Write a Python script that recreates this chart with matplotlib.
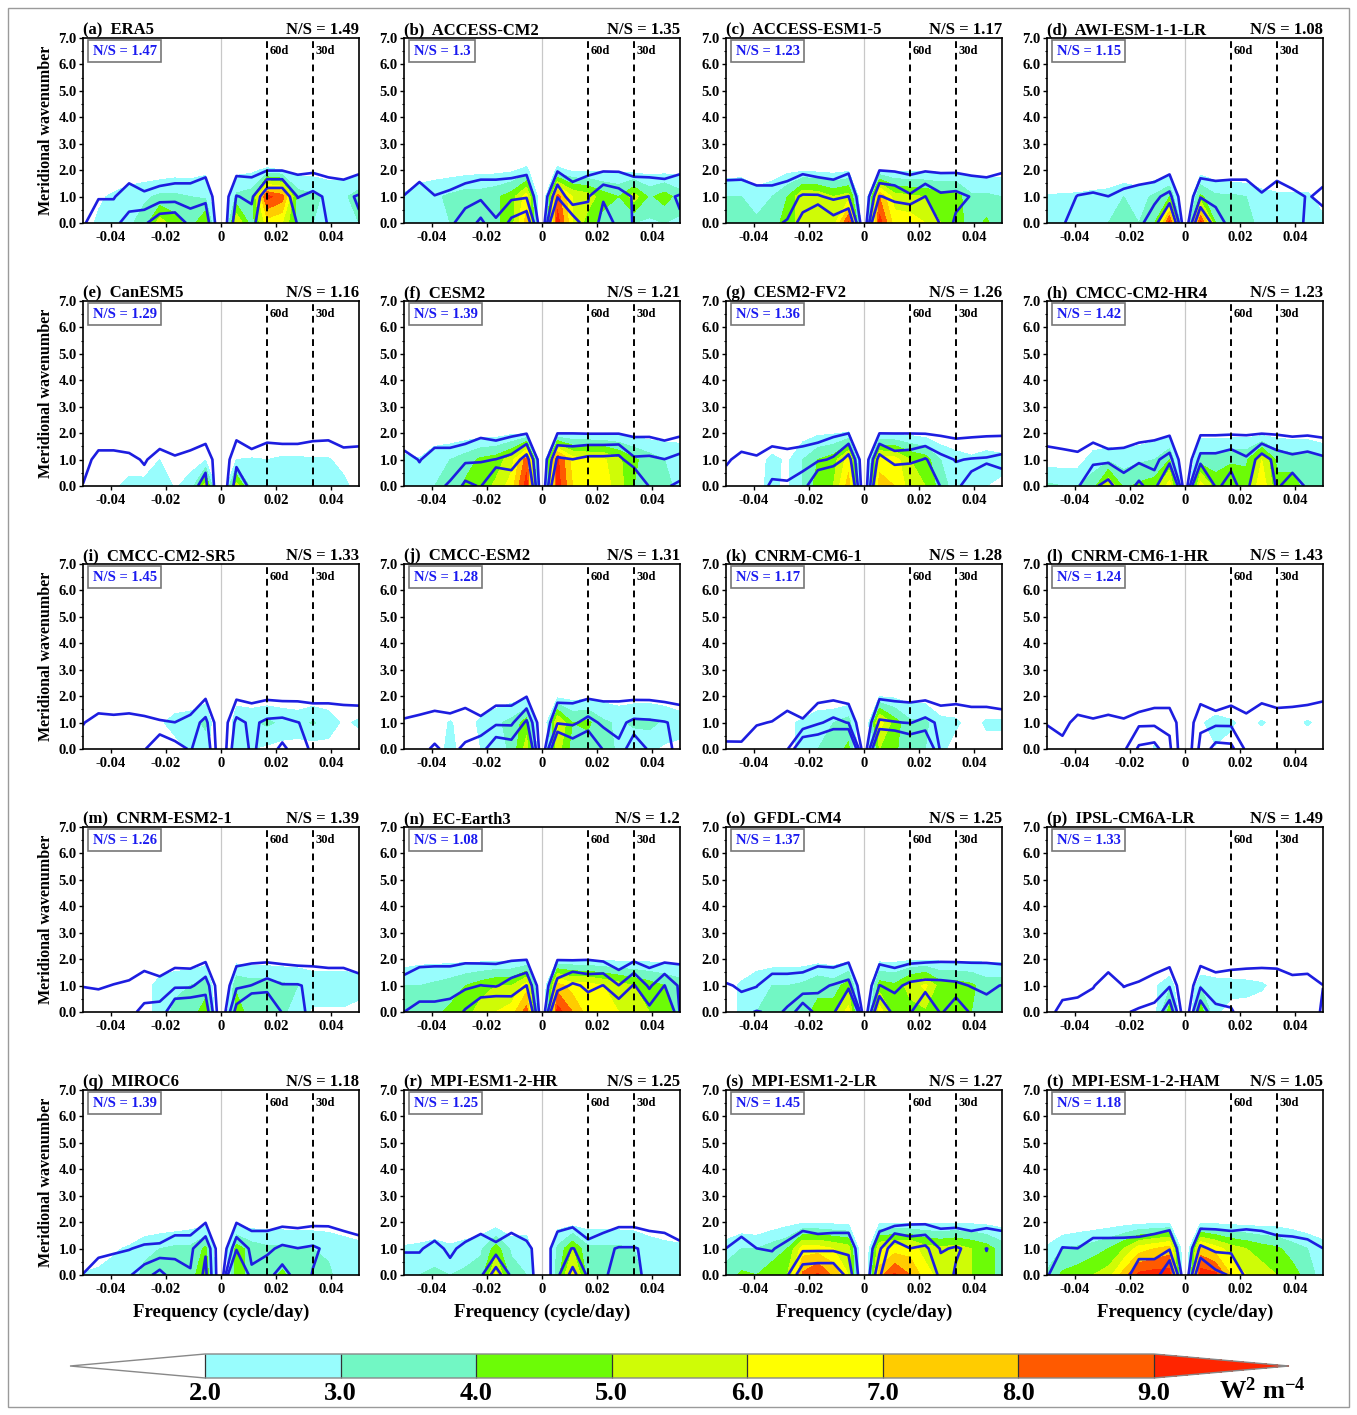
import numpy as np
import matplotlib
matplotlib.use("Agg")
import matplotlib.pyplot as plt
from matplotlib.colors import ListedColormap, BoundaryNorm
from matplotlib.cm import ScalarMappable
from matplotlib.patches import Rectangle
from matplotlib.ticker import MultipleLocator

plt.rcParams['font.family'] = ['Liberation Serif', 'DejaVu Serif']
plt.rcParams['font.weight'] = 'bold'
plt.rcParams['axes.labelweight'] = 'bold'
plt.rcParams['axes.titleweight'] = 'bold'
plt.rcParams['axes.unicode_minus'] = False
plt.rcParams['mathtext.fontset'] = 'custom'
plt.rcParams['mathtext.rm'] = 'Liberation Serif:bold'
plt.rcParams['mathtext.bf'] = 'Liberation Serif:bold'
plt.rcParams['mathtext.it'] = 'Liberation Serif:bold:italic'

# ---------------- data ----------------
freq = [-0.05, -0.0444, -0.0389, -0.0333, -0.0278, -0.0222, -0.0167, -0.0111, -0.0056, 0.0,
        0.0056, 0.0111, 0.0167, 0.0222, 0.0278, 0.0333, 0.0389, 0.0444, 0.05]
wavenumber = [0.0, 1.0, 2.0, 3.0]
fill_levels = [2.0, 3.0, 4.0, 5.0, 6.0, 7.0, 8.0, 9.0]
line_levels = [1.0, 2.0, 3.0]

panel_letters = ['(a)', '(b)', '(c)', '(d)', '(e)', '(f)', '(g)', '(h)', '(i)', '(j)',
                 '(k)', '(l)', '(m)', '(n)', '(o)', '(p)', '(q)', '(r)', '(s)', '(t)']
models = ['ERA5', 'ACCESS-CM2', 'ACCESS-ESM1-5', 'AWI-ESM-1-1-LR', 'CanESM5', 'CESM2',
          'CESM2-FV2', 'CMCC-CM2-HR4', 'CMCC-CM2-SR5', 'CMCC-ESM2', 'CNRM-CM6-1',
          'CNRM-CM6-1-HR', 'CNRM-ESM2-1', 'EC-Earth3', 'GFDL-CM4', 'IPSL-CM6A-LR',
          'MIROC6', 'MPI-ESM1-2-HR', 'MPI-ESM1-2-LR', 'MPI-ESM-1-2-HAM']
ns_title = ['1.49', '1.35', '1.17', '1.08', '1.16', '1.21', '1.26', '1.23', '1.33', '1.31',
            '1.28', '1.43', '1.39', '1.2', '1.25', '1.49', '1.18', '1.25', '1.27', '1.05']
ns_box = ['1.47', '1.3', '1.23', '1.15', '1.29', '1.39', '1.36', '1.42', '1.45', '1.28',
          '1.17', '1.24', '1.26', '1.08', '1.37', '1.33', '1.39', '1.25', '1.45', '1.18']

# filled field (W^2 m^-4), rows: wavenumber 0, 1, 2
FILL_A = [[1.5, 2.2, 2.5, 2.8, 3.5, 5.5, 4.5, 3.5, 5.0, 0, 6.0, 3.5, 6.5, 6.0, 3.5, 3.0, 3.0, 2.8, 3.0],
          [1.0, 1.8, 2.2, 2.6, 2.8, 3.2, 3.2, 3.0, 2.8, 0, 3.2, 3.5, 9.3, 8.5, 3.5, 3.2, 2.8, 2.8, 3.5],
          [0.5, 0.8, 1.0, 1.2, 1.3, 1.3, 1.5, 1.5, 1.8, 0, 1.7, 1.8, 2.2, 2.0, 1.6, 1.6, 1.5, 1.5, 1.6]]
FILL_B = [[2.5, 2.8, 3.0, 3.0, 3.5, 3.5, 3.8, 4.5, 7.5, 0, 9.5, 6.0, 4.5, 3.5, 3.0, 3.0, 2.8, 3.0, 2.8],
          [2.2, 2.8, 2.8, 3.2, 3.5, 3.5, 3.8, 4.5, 6.5, 0, 8.5, 6.0, 5.5, 4.5, 4.0, 5.5, 3.8, 4.5, 3.5],
          [0.8, 1.2, 1.5, 1.5, 1.6, 1.7, 1.7, 1.8, 2.3, 0, 2.3, 1.8, 1.8, 1.8, 1.8, 1.6, 1.6, 1.6, 1.6]]
FILL_C = [[3.2, 4.0, 3.2, 3.5, 4.5, 5.5, 6.0, 5.5, 9.2, 0, 9.5, 6.5, 6.5, 6.0, 5.0, 4.5, 3.5, 4.2, 3.0],
          [3.0, 3.0, 2.5, 3.0, 4.0, 6.0, 5.8, 5.0, 5.5, 0, 8.0, 5.5, 5.2, 5.0, 4.5, 4.5, 3.2, 3.2, 3.0],
          [1.5, 1.6, 1.2, 1.3, 1.7, 1.8, 1.7, 1.6, 1.8, 0, 2.0, 1.8, 1.8, 1.8, 1.8, 1.8, 1.6, 1.5, 1.6]]
FILL_D = [[2.3, 2.5, 2.5, 2.8, 3.0, 3.2, 3.0, 4.0, 9.5, 0, 9.5, 4.0, 3.2, 3.2, 2.8, 2.6, 2.5, 2.2, 2.2],
          [2.1, 2.2, 2.2, 2.3, 2.5, 3.0, 2.6, 3.2, 4.0, 0, 4.2, 3.2, 3.2, 3.0, 2.4, 2.2, 2.2, 2.2, 1.6],
          [0.5, 0.5, 0.8, 1.0, 0.8, 1.0, 1.0, 1.2, 1.5, 0, 1.5, 1.2, 1.0, 1.0, 1.0, 1.0, 1.0, 1.0, 0.5]]
FILL_E = [[1.5, 1.8, 1.8, 2.3, 2.2, 2.6, 1.9, 2.3, 5.5, 0, 5.5, 2.5, 2.5, 2.5, 2.6, 2.6, 2.2, 2.3, 1.5],
          [1.0, 1.2, 1.2, 1.5, 1.6, 2.0, 1.6, 1.7, 1.9, 0, 2.0, 2.1, 2.0, 2.2, 2.2, 2.1, 2.1, 1.6, 1.2],
          [0.5, 0.5, 0.5, 0.5, 0.5, 0.5, 0.5, 0.5, 0.5, 0, 0.5, 0.5, 0.5, 0.5, 0.5, 0.5, 0.5, 0.5, 0.5]]
FILL_F = [[2.5, 2.5, 3.0, 3.2, 4.2, 4.5, 5.2, 6.5, 9.5, 0, 9.5, 7.0, 6.5, 6.5, 5.5, 4.0, 3.5, 3.2, 2.8],
          [2.3, 2.1, 2.8, 3.0, 3.5, 4.2, 4.5, 5.5, 8.5, 0, 9.2, 6.5, 6.2, 6.2, 5.2, 4.2, 3.5, 3.0, 2.8],
          [0.8, 0.5, 1.2, 1.3, 1.4, 1.5, 1.5, 1.8, 1.9, 0, 1.9, 1.9, 1.9, 1.8, 1.8, 1.6, 1.5, 1.5, 1.5]]
FILL_G = [[1.5, 1.8, 1.8, 2.2, 1.8, 3.0, 4.5, 5.0, 7.5, 0, 7.5, 7.0, 5.5, 5.0, 3.5, 2.5, 2.0, 2.0, 1.8],
          [1.2, 1.5, 1.5, 2.3, 1.8, 3.0, 4.0, 4.5, 6.5, 0, 6.5, 6.5, 5.0, 4.5, 3.0, 2.5, 2.2, 2.5, 2.3],
          [0.5, 0.5, 0.5, 0.8, 0.8, 1.5, 1.8, 1.9, 2.1, 0, 1.9, 1.8, 1.7, 1.5, 1.2, 1.0, 1.0, 1.0, 1.0]]
FILL_H = [[3.2, 3.0, 3.0, 3.5, 6.0, 3.8, 4.2, 4.5, 6.5, 0, 6.5, 4.5, 5.0, 4.5, 6.8, 4.2, 4.5, 3.5, 3.2],
          [1.5, 1.5, 1.5, 2.5, 2.8, 2.5, 2.8, 3.0, 4.0, 0, 3.5, 3.5, 3.8, 3.8, 6.0, 3.8, 3.5, 3.5, 3.2],
          [0.2, 0.2, 0.3, 1.0, 1.0, 1.3, 1.3, 1.5, 1.6, 0, 1.6, 1.6, 1.6, 1.6, 1.6, 1.6, 1.5, 1.5, 1.2]]
FILL_I = [[1.0, 1.0, 1.0, 1.0, 1.0, 1.2, 1.5, 2.2, 2.5, 0, 2.5, 2.0, 1.8, 1.6, 1.6, 1.5, 1.6, 1.5, 1.2],
          [1.0, 1.2, 1.2, 1.2, 1.3, 1.8, 2.5, 2.6, 3.2, 0, 2.8, 2.8, 3.2, 2.8, 2.6, 3.1, 2.6, 1.8, 2.2],
          [0.5, 0.5, 0.5, 0.5, 0.5, 0.8, 1.0, 1.2, 1.5, 0, 1.5, 1.3, 1.3, 1.3, 1.3, 1.3, 1.3, 1.0, 0.8]]
FILL_J = [[1.0, 1.2, 1.5, 2.3, 1.5, 2.0, 2.5, 3.2, 5.5, 0, 5.5, 3.5, 3.5, 3.5, 2.8, 2.2, 2.2, 1.8, 1.7],
          [1.0, 1.2, 1.4, 2.1, 1.5, 2.2, 2.8, 3.3, 4.5, 0, 6.2, 4.0, 4.2, 3.2, 2.8, 3.2, 3.3, 2.8, 2.5],
          [0.3, 0.4, 0.5, 0.5, 0.5, 1.2, 1.3, 1.5, 1.7, 0, 1.7, 1.6, 1.7, 1.6, 1.5, 1.5, 1.5, 1.5, 1.3]]
FILL_K = [[1.0, 1.0, 1.0, 1.0, 1.5, 2.5, 3.0, 3.5, 4.2, 0, 5.0, 4.2, 3.2, 3.0, 2.3, 1.5, 1.2, 1.5, 1.5],
          [1.0, 1.0, 1.0, 1.0, 1.8, 2.2, 2.8, 3.0, 3.5, 0, 6.5, 4.5, 3.2, 3.2, 2.3, 2.2, 1.5, 2.2, 2.2],
          [0.5, 0.5, 0.5, 0.5, 0.5, 0.8, 1.0, 1.0, 1.2, 0, 1.9, 1.8, 1.5, 1.5, 1.0, 1.0, 0.5, 0.5, 0.5]]
FILL_L = [[1.0, 1.0, 1.0, 1.0, 1.0, 1.0, 1.0, 2.1, 1.8, 0, 1.8, 1.9, 1.5, 1.0, 1.0, 1.0, 1.0, 1.0, 1.0],
          [1.0, 1.0, 1.0, 1.0, 1.0, 1.0, 1.0, 1.5, 1.6, 0, 1.8, 2.6, 2.2, 1.5, 2.15, 1.5, 1.5, 2.15, 1.5],
          [0.5, 0.5, 0.5, 0.5, 0.5, 0.5, 0.5, 0.5, 0.5, 0, 0.5, 0.5, 0.5, 0.5, 0.5, 0.5, 0.5, 0.5, 0.5]]
FILL_M = [[1.0, 1.0, 1.0, 1.0, 1.5, 2.5, 3.2, 3.5, 4.5, 0, 4.5, 3.5, 3.5, 3.2, 2.5, 1.8, 1.8, 1.8, 1.5],
          [1.0, 1.0, 1.0, 1.0, 1.5, 2.5, 2.8, 3.0, 3.5, 0, 3.8, 3.5, 3.5, 3.2, 3.0, 2.8, 2.8, 2.8, 2.6],
          [0.5, 0.5, 0.5, 0.5, 0.5, 1.0, 1.3, 1.3, 1.5, 0, 1.6, 1.5, 1.5, 1.5, 1.5, 1.3, 1.3, 1.3, 1.3]]
FILL_N = [[3.2, 3.5, 3.8, 4.2, 4.5, 5.5, 6.0, 6.5, 8.5, 0, 9.5, 8.0, 6.5, 6.5, 6.0, 5.5, 5.0, 4.5, 3.5],
          [3.0, 3.0, 3.2, 3.5, 4.0, 4.5, 5.0, 5.0, 6.5, 0, 7.5, 6.5, 6.5, 6.0, 5.5, 5.0, 4.5, 4.0, 3.5],
          [1.5, 1.7, 1.7, 1.7, 1.7, 1.7, 1.7, 1.8, 1.9, 0, 2.0, 2.0, 1.9, 1.8, 1.7, 1.7, 1.7, 1.7, 1.7]]
FILL_O = [[1.5, 2.2, 3.0, 3.2, 3.5, 3.8, 4.2, 4.5, 6.5, 0, 6.5, 4.5, 4.5, 4.8, 4.2, 4.0, 4.0, 3.8, 3.5],
          [1.5, 2.2, 2.8, 3.0, 3.0, 3.2, 3.8, 3.5, 4.5, 0, 4.5, 4.2, 5.5, 6.2, 4.5, 4.5, 4.2, 3.5, 3.5],
          [0.5, 1.0, 1.3, 1.5, 1.5, 1.5, 1.6, 1.5, 1.7, 0, 1.7, 1.7, 1.8, 1.8, 1.8, 1.8, 1.8, 1.8, 1.8]]
FILL_P = [[1.0, 1.0, 1.0, 1.0, 1.0, 1.0, 1.0, 1.5, 4.5, 0, 4.5, 2.2, 1.5, 1.5, 1.2, 1.0, 1.0, 1.0, 1.0],
          [1.0, 1.0, 1.0, 1.0, 1.0, 1.0, 1.0, 1.8, 2.8, 0, 3.0, 2.6, 2.5, 2.4, 2.2, 1.5, 1.0, 1.0, 1.0],
          [0.5, 0.5, 0.5, 0.5, 0.5, 0.5, 0.5, 0.5, 0.5, 0, 0.5, 0.5, 0.5, 0.5, 0.5, 0.5, 0.5, 0.5, 0.5]]
FILL_Q = [[2.1, 2.2, 2.5, 2.6, 3.2, 3.2, 3.5, 3.5, 5.0, 0, 4.5, 3.5, 3.5, 4.2, 3.5, 3.2, 3.2, 2.5, 2.2],
          [1.0, 1.5, 1.8, 2.2, 2.8, 3.0, 3.2, 3.2, 4.2, 0, 4.5, 3.5, 3.2, 3.2, 3.0, 3.0, 2.8, 2.5, 2.3],
          [0.5, 0.5, 0.5, 0.5, 1.0, 1.2, 1.3, 1.5, 1.6, 0, 1.6, 1.5, 1.5, 1.5, 1.5, 1.5, 1.5, 1.4, 1.3]]
FILL_R = [[2.5, 3.0, 3.2, 3.0, 3.2, 3.5, 6.2, 3.5, 3.0, 0, 3.5, 6.5, 3.5, 3.2, 3.5, 3.2, 2.8, 2.5, 2.5],
          [2.2, 2.3, 2.5, 2.3, 2.5, 2.8, 4.5, 2.8, 2.8, 0, 3.2, 5.0, 3.2, 3.2, 3.2, 3.0, 2.5, 2.3, 2.2],
          [0.5, 0.8, 1.0, 0.5, 1.0, 1.2, 1.3, 1.0, 1.2, 0, 1.5, 1.5, 1.5, 1.5, 1.5, 1.5, 1.4, 1.3, 1.2]]
FILL_S = [[3.5, 4.2, 4.0, 4.5, 5.0, 8.2, 9.2, 7.8, 6.0, 0, 7.5, 9.2, 8.0, 6.5, 5.5, 5.5, 5.0, 4.5, 3.5],
          [2.5, 3.0, 3.0, 3.5, 4.0, 6.5, 6.5, 6.0, 5.5, 0, 6.0, 6.5, 6.5, 5.5, 5.2, 5.5, 5.0, 4.5, 3.5],
          [1.0, 1.2, 1.0, 1.3, 1.6, 1.8, 1.8, 1.7, 1.7, 0, 1.8, 1.8, 1.8, 1.8, 1.8, 1.8, 1.8, 1.7, 1.6]]
FILL_T = [[3.2, 4.2, 4.5, 5.0, 5.5, 7.5, 9.3, 9.5, 9.5, 0, 9.5, 9.3, 7.0, 6.0, 5.5, 5.0, 4.5, 3.5, 2.5],
          [2.2, 3.0, 3.2, 3.5, 4.0, 5.0, 6.5, 7.0, 7.5, 0, 7.5, 6.5, 5.5, 5.0, 4.5, 4.2, 3.5, 3.0, 2.5],
          [0.5, 1.0, 1.2, 1.3, 1.4, 1.5, 1.6, 1.7, 1.8, 0, 1.8, 1.7, 1.6, 1.6, 1.5, 1.5, 1.4, 1.2, 1.0]]

# contoured (blue line) field, rows: wavenumber 0, 1, 2
LINE_A = [[0.8, 1.9, 1.9, 2.15, 2.8, 3.8, 4.0, 2.6, 2.6, 0, 2.6, 2.5, 4.5, 4.5, 2.9, 2.9, 1.9, 1.9, 1.9],
          [0.3, 0.9, 0.9, 1.8, 1.2, 1.5, 1.5, 1.5, 1.8, 0, 2.05, 1.8, 4.0, 4.0, 1.95, 2.3, 1.8, 1.8, 2.1],
          [0, 0, 0, 0.2, 0.2, 0.25, 0.5, 0.5, 0.7, 0, 0.7, 0.7, 0.95, 0.95, 0.8, 0.85, 0.7, 0.55, 0.8]]
LINE_B = [[1.5, 1.9, 1.9, 1.9, 2.25, 3.3, 2.05, 3.3, 3.9, 0, 6.0, 3.77, 2.2, 3.4, 2.8, 1.9, 1.5, 1.5, 1.9],
          [1.05, 1.8, 1.05, 1.5, 1.8, 1.8, 1.8, 1.8, 1.9, 0, 2.9, 1.2, 1.95, 2.9, 2.5, 1.9, 1.8, 1.8, 2.1],
          [0, 0.35, 0, -0.5, 0.2, 0.55, 0.55, 0.65, 0.8, 0, 0.9, 0.84, 0.75, 0.9, 0.9, 0.7, 0.7, 0.6, 0.8]]
LINE_C = [[1.9, 1.9, 1.9, 1.9, 2.05, 3.6, 5.1, 3.5, 4.2, 0, 6.0, 3.8, 5.0, 5.0, 2.8, 1.8, 1.5, 1.5, 1.5],
          [1.8, 1.8, 1.8, 1.8, 1.7, 2.1, 2.1, 1.8, 2.02, 0, 3.05, 2.8, 2.15, 3.02, 2.2, 2.3, 1.95, 1.8, 1.8],
          [0.5, 0.55, -0.1, -0.1, 0.5, 0.8, 0.6, 0.55, 0.85, 0, 0.98, 0.9, 0.75, 0.9, 0.85, 0.85, 0.75, 0.7, 0.9]]
LINE_D = [[0.8, 0.9, 1.5, 1.5, 1.5, 1.6, 1.8, 2.47, 5.1, 0, 4.65, 2.3, 1.8, 1.8, 1.5, 1.5, 1.5, 0.8, 0.5],
          [0.5, 0.5, 1.05, 1.2, 1.01, 1.5, 1.8, 1.8, 2.3, 0, 1.9, 1.8, 1.8, 1.8, 1.2, 1.8, 1.5, 0.9, 1.3],
          [0, 0, 0, -0.1, 0, -0.2, 0, 0.35, 0.75, 0, 0.6, 0.45, 0.55, 0.55, -0.1, 0.45, -0.2, 0, 0.5]]
LINE_E = [[1.1, 1.8, 1.8, 1.8, 1.8, 1.8, 1.8, 1.8, 2.2, 0, 2.5, 1.8, 1.8, 1.8, 1.8, 1.8, 1.8, 1.8, 1.8],
          [0, 1.8, 1.8, 1.5, 0.8, 1.8, 1.2, 1.8, 1.8, 0, 1.8, 1.8, 1.8, 1.8, 1.8, 1.8, 1.8, 1.8, 1.8],
          [0, -0.5, -0.5, -0.5, 0, -0.2, -0.1, -0.5, 0.45, 0, 0.7, -0.2, 0.55, 0.45, 0.45, 0.65, 0.7, 0.05, 0.2]]
LINE_F = [[1.8, 1.9, 1.9, 2.05, 3.3, 2.9, 5.3, 4.05, 5.0, 0, 5.0, 5.0, 5.0, 5.0, 5.0, 4.98, 2.9, 2.9, 3.16],
          [1.8, 0.9, 1.8, 1.8, 1.8, 1.9, 2.02, 2.3, 3.5, 0, 3.2, 3.02, 3.3, 3.3, 3.4, 2.15, 2.2, 2.02, 2.35],
          [-0.5, 0, 0, 0, 0.45, 0.8, 0.6, 0.8, 0.95, 0, 0.98, 0.98, 0.95, 0.95, 0.95, 0.8, 0.8, 0.6, 0.8]]
LINE_G = [[1.8, 1.8, 1.8, 2.07, 2.05, 2.25, 4.8, 5.55, 5.0, 0, 5.0, 5.0, 5.27, 5.0, 2.9, 2.5, 4.16, 8.0, 4.3],
          [0.75, 1.5, 1.2, 1.8, 1.8, 1.8, 1.8, 2.15, 3.5, 0, 3.5, 2.5, 2.6, 3.1, 2.3, 1.95, 2.05, 2.1, 2.3],
          [0, -0.2, -0.1, 0.2, -0.2, 0.2, 0.55, 0.8, 0.98, 0, 0.98, 0.98, 0.98, 0.95, 0.85, 0.75, 0.8, 0.85, 0.85]]
LINE_H = [[1.9, 1.9, 1.9, 2.8, 3.4, 2.2, 3.3, 2.3, 6.4, 0, 6.4, 2.8, 3.37, 2.5, 5.0, 2.8, 3.7, 2.8, 2.6],
          [1.8, 1.8, 1.5, 1.8, 1.8, 1.8, 1.8, 1.8, 2.4, 0, 2.35, 2.35, 2.7, 2.15, 3.6, 2.6, 2.3, 2.5, 2.2],
          [0.2, -0.2, -0.2, 0.55, -0.2, 0, 0.55, 0.7, 0.85, 0, 0.88, 0.88, 0.9, 0.9, 0.95, 0.9, 0.8, 0.85, 0.75]]
LINE_I = [[1.9, 1.9, 1.9, 1.9, 1.9, 2.98, 2.42, 1.9, 2.9, 0, 2.9, 1.8, 2.5, 3.23, 2.5, 1.8, 1.8, 1.8, 1.8],
          [0.9, 1.8, 1.5, 1.8, 1.5, 1.2, 1.02, 1.5, 2.3, 0, 2.3, 1.8, 2.2, 2.3, 2.02, 1.8, 1.8, 1.8, 1.8],
          [0, -0.5, -0.2, -0.5, -0.5, -0.8, -1.0, -0.2, 0.85, 0, 0.8, 0.7, 0.8, 0.7, 0.75, 0.7, 0.7, 0.6, 0.55]]
LINE_J = [[1.9, 1.9, 2.05, 1.9, 2.07, 2.5, 3.98, 3.65, 5.0, 0, 5.04, 3.8, 4.5, 2.9, 2.13, 3.98, 2.8, 2.5, 1.5],
          [1.2, 1.5, 1.8, 1.8, 1.8, 1.5, 1.8, 1.8, 3.2, 0, 1.9, 1.8, 2.35, 1.8, 1.8, 2.2, 2.15, 2.05, 1.8],
          [-0.1, -0.2, 0, -0.5, 0.35, -0.5, 0.55, 0.55, 0.95, 0, 0.7, 0.7, 0.85, 0.8, 0.8, 0.8, 0.8, 0.7, 0.6]]
LINE_K = [[1.2, 1.2, 1.8, 1.8, 1.9, 4.47, 4.4, 5.1, 6.15, 0, 5.6, 5.2, 4.3, 4.63, 1.8, 1.8, 1.8, 1.8, 1.8],
          [0.5, 0.48, 0.9, 1.05, 1.8, 1.2, 1.85, 2.3, 1.95, 0, 2.15, 2.05, 1.95, 2.3, 1.8, 1.8, 1.8, 1.8, 1.8],
          [0, 0, 0, 0, 0, -0.1, 0.7, 0.75, 0.6, 0, 0.85, 0.75, 0.7, 0.75, 0.55, 0.65, 0.45, 0.45, 0.2]]
LINE_L = [[1.9, 1.5, 1.8, 1.8, 1.8, 1.8, 3.2, 3.4, 2.2, 0, 2.3, 3.4, 3.3, 1.8, 1.5, 1.5, 1.5, 1.5, 1.5],
          [0.9, 0.5, 1.5, 1.2, 1.5, 1.2, 1.8, 1.8, 1.8, 0, 1.8, 1.8, 1.8, 1.8, 1.8, 1.8, 1.8, 1.8, 1.8],
          [0, 0, -0.2, -0.1, -0.2, -0.1, -0.2, 0.35, 0.35, 0, 0.65, 0.0, 0.55, -0.5, 0.7, 0.35, 0.45, 0.6, 0.8]]
LINE_M = [[1.9, 1.9, 1.9, 1.9, 2.1, 2.13, 4.2, 4.45, 3.74, 0, 3.5, 5.3, 4.65, 2.9, 2.5, 1.5, 1.5, 1.5, 1.5],
          [0.95, 0.85, 1.05, 1.2, 1.8, 1.8, 1.8, 1.8, 2.6, 0, 1.8, 2.02, 2.45, 2.07, 2.07, 1.8, 1.8, 1.8, 1.8],
          [0, 0, 0, 0.2, 0.35, -0.5, 0.6, 0.55, 0.8, 0, 0.7, 0.8, 0.8, 0.75, 0.65, 0.7, 0.6, 0.6, 0.05]]
LINE_N = [[2.0, 2.13, 2.13, 2.2, 3.15, 4.2, 4.65, 3.8, 5.0, 0, 5.4, 5.0, 3.6, 5.0, 3.98, 5.0, 3.4, 5.0, 1.9],
          [1.8, 1.8, 1.8, 1.8, 1.8, 2.02, 1.9, 2.45, 3.02, 0, 2.4, 3.2, 2.8, 3.02, 2.02, 3.1, 1.8, 3.02, 1.8],
          [-0.2, 0.65, 0.7, 0.7, 0.85, 0.8, 0.8, 0.9, 0.95, 0, 0.95, 0.9, 0.95, 0.8, 0.3, 0.8, 0.6, 0.7, 0.8]]
LINE_O = [[1.8, 1.8, 2.05, 1.9, 2.05, 4.0, 2.5, 2.5, 8.0, 0, 4.47, 2.5, 2.8, 4.95, 2.8, 3.98, 2.8, 2.2, 2.5],
          [1.2, 0.75, 0.95, 1.8, 1.8, 1.1, 1.8, 2.07, 2.35, 0, 2.02, 1.8, 2.2, 2.35, 2.3, 2.2, 1.95, 1.9, 2.02],
          [-0.8, 0, 0, 0, 0, 0.9, 0.7, 0.5, 0.8, 0, 0.75, 0.6, 0.75, 0.8, 0.85, 0.85, 0.85, 0.85, 0.75]]
LINE_P = [[0.5, 1.45, 1.55, 1.9, 1.9, 1.9, 2.14, 2.11, 3.9, 0, 3.88, 2.09, 2.04, 1.8, 1.8, 1.8, 1.8, 1.8, 0.8],
          [0.2, 0.45, 0.55, 0.9, 1.8, 0.95, 1.2, 1.8, 1.9, 0, 1.85, 1.8, 1.8, 1.8, 1.8, 1.8, 1.8, 1.8, 1.02],
          [0, 0, 0, 0, 0.2, 0, -0.1, 0, 0.6, 0, 0.7, 0.2, 0.45, 0.55, 0.6, 0.55, -0.2, 0, 0]]
LINE_Q = [[1.05, 1.65, 1.8, 1.9, 2.53, 3.45, 2.3, 2.07, 3.23, 0, 6.8, 2.13, 2.6, 3.53, 2.5, 1.95, 1.5, 1.5, 1.5],
          [0, 0.65, 0.8, 0.95, 1.2, 1.2, 1.8, 1.8, 2.9, 0, 2.8, 1.8, 1.8, 2.2, 2.02, 2.15, 1.8, 1.8, 1.8],
          [0, 0, 0, 0, -0.1, 0.2, 0.2, 0.2, 0.95, 0, 0.95, 0.6, 0.6, 0.75, 0.7, 0.8, 0.85, 0.6, 0.2]]
LINE_R = [[1.85, 1.85, 1.8, 1.65, 1.8, 1.8, 3.64, 1.8, 1.8, 0, 1.8, 3.42, 1.8, 1.8, 2.5, 2.5, 1.5, 1.5, 1.5],
          [0.85, 0.85, 1.5, 0.65, 1.5, 1.8, 1.5, 1.8, 1.5, 0, 1.8, 2.02, 1.8, 1.8, 2.07, 2.07, 1.8, 1.8, 1.5],
          [0, 0, -0.2, 0, -0.5, 0.35, -0.5, 0.45, -0.2, 0, 0.55, 0.75, -0.5, 0.45, 0.75, 0.75, 0.6, 0.45, -0.2]]
LINE_S = [[1.8, 1.8, 1.8, 1.9, 1.9, 3.8, 3.98, 3.98, 2.6, 0, 2.8, 5.0, 5.0, 5.0, 2.5, 1.9, 1.9, 1.9, 1.9],
          [1.01, 1.8, 1.01, 0.9, 1.5, 1.8, 1.8, 1.8, 1.8, 0, 1.8, 4.0, 3.02, 3.3, 1.9, 2.1, 1.8, 2.01, 1.8],
          [0, 0, 0, 0, -0.2, 0.6, 0.35, 0.45, 0.45, 0, 0.55, 0.5, 0.8, 0.8, 0.7, 0.7, 0.6, 0.7, 0.6]]
LINE_T = [[0.9, 1.8, 1.8, 1.8, 1.8, 1.8, 2.3, 2.3, 4.35, 0, 4.49, 3.3, 2.9, 1.8, 1.8, 1.8, 1.8, 1.8, 1.1],
          [0, 1.05, 1.01, 1.8, 1.8, 1.8, 1.8, 1.8, 1.9, 0, 2.2, 1.8, 1.8, 1.8, 1.8, 1.8, 1.8, 1.8, 1.01],
          [0, 0, 0, -0.2, -0.2, -0.15, 0, 0.35, 0.6, 0, 0.6, 0.7, 0.6, 0.7, 0.6, 0.2, 0.05, -0.5, 0]]

FILLS = [FILL_A, FILL_B, FILL_C, FILL_D, FILL_E, FILL_F, FILL_G, FILL_H, FILL_I, FILL_J,
         FILL_K, FILL_L, FILL_M, FILL_N, FILL_O, FILL_P, FILL_Q, FILL_R, FILL_S, FILL_T]
LINES = [LINE_A, LINE_B, LINE_C, LINE_D, LINE_E, LINE_F, LINE_G, LINE_H, LINE_I, LINE_J,
         LINE_K, LINE_L, LINE_M, LINE_N, LINE_O, LINE_P, LINE_Q, LINE_R, LINE_S, LINE_T]

# ---------------- style ----------------
fill_colors = ['#98FDFD', '#72F7C4', '#6CFC06', '#CFFC06', '#FFFF00', '#FFCC00', '#FF5A00']
over_color = '#FF2500'
line_color = '#1D1DE0'

W, H = 1357.0, 1415.0
fig = plt.figure(figsize=(W / 100, H / 100), dpi=100)
fig.patch.set_facecolor('white')

col_left = [83, 404, 726, 1047]
row_top = [38, 301, 564, 827, 1090]
ax_w, ax_h = 276, 185

fx = np.array(freq)
wy = np.array(wavenumber)

for p in range(20):
    r, c = divmod(p, 4)
    ax = fig.add_axes([col_left[c] / W, 1 - (row_top[r] + ax_h) / H, ax_w / W, ax_h / H])
    zf = np.vstack([np.array(FILLS[p], dtype=float), np.zeros(len(freq))])
    zl = np.vstack([np.array(LINES[p], dtype=float), np.zeros(len(freq))])
    ax.contourf(fx, wy, zf, levels=fill_levels, colors=fill_colors + [over_color], extend='max')
    ax.contour(fx, wy, zl, levels=line_levels, colors=line_color, linewidths=1.9)
    ax.axvline(0, color='#c8c8c8', lw=0.9, zorder=0.5)
    for fv, lab in [(1 / 60, '60d'), (1 / 30, '30d')]:
        ax.axvline(fv, color='black', lw=1.4, ls=(0, (3.5, 2.5)), zorder=3)
        ax.text(fv + 0.0008, 6.5, lab, fontsize=9, fontweight='bold', va='center', ha='left', zorder=4)
    ax.set_xlim(-0.05, 0.05)
    ax.set_ylim(0, 7)
    ax.set_xticks([-0.04, -0.02, 0, 0.02, 0.04])
    ax.set_xticklabels(['-0.04', '-0.02', '0', '0.02', '0.04'])
    ax.set_yticks(np.arange(0, 8))
    ax.set_yticklabels(['%.1f' % v for v in range(8)])
    ax.yaxis.set_minor_locator(MultipleLocator(0.5))
    ax.tick_params(axis='both', which='major', labelsize=10.5, length=3, width=1, pad=1.5, direction='out')
    ax.tick_params(axis='y', which='minor', length=1.5, width=0.8)
    ax.tick_params(axis='x', which='major', pad=3)
    for lab in ax.get_xticklabels() + ax.get_yticklabels():
        lab.set_fontweight('bold')
    for s in ax.spines.values():
        s.set_linewidth(1.2)
    ax.set_title(panel_letters[p] + '  ' + models[p], loc='left', fontsize=12, fontweight='bold', pad=1.5)
    ax.set_title('N/S = ' + ns_title[p], loc='right', fontsize=12, fontweight='bold', pad=1.5)
    ax.text(-0.0465, 6.5, 'N/S = ' + ns_box[p], color='#1A1AF0', fontsize=10.5, fontweight='bold',
            va='center', ha='left', zorder=5,
            bbox=dict(boxstyle='square,pad=0.3', fc='white', ec='#777777', lw=1.2))
    if c == 0:
        ax.set_ylabel('Meridional wavenumber', fontsize=11.5, fontweight='bold', labelpad=3)
    if r == 4:
        ax.set_xlabel('Frequency (cycle/day)', fontsize=13.5, fontweight='bold', labelpad=5)

# colorbar (axes spans the extension triangles too)
cax = fig.add_axes([70 / W, 1 - 1378 / H, (1289 - 70) / W, 24 / H])
cmap = ListedColormap(fill_colors)
cmap.set_under('white')
cmap.set_over(over_color)
norm = BoundaryNorm(fill_levels, cmap.N)
sm = ScalarMappable(norm=norm, cmap=cmap)
cb = fig.colorbar(sm, cax=cax, orientation='horizontal', extend='both', extendfrac=135.0 / 948.0,
                  drawedges=True, ticks=fill_levels)
cb.ax.set_xticklabels(['%.1f' % v for v in fill_levels])
cb.ax.tick_params(length=0, labelsize=19, pad=3)
for lab in cb.ax.get_xticklabels():
    lab.set_fontweight('bold')
cb.outline.set_edgecolor('#888888')
cb.outline.set_linewidth(1.0)
cb.dividers.set_color('#333333')
cb.dividers.set_linewidth(0.9)
fig.text(1262 / W, 1 - 1391 / H, r'W$^{2}$ m$^{-4}$', fontsize=19, fontweight='bold', ha='center', va='center')

# outer frame
fig.add_artist(Rectangle((8 / W, 8 / H), (W - 16) / W, (H - 16) / H, transform=fig.transFigure,
                         fill=False, ec='#9a9a9a', lw=1.0))

fig.savefig('out.png', dpi=100)
